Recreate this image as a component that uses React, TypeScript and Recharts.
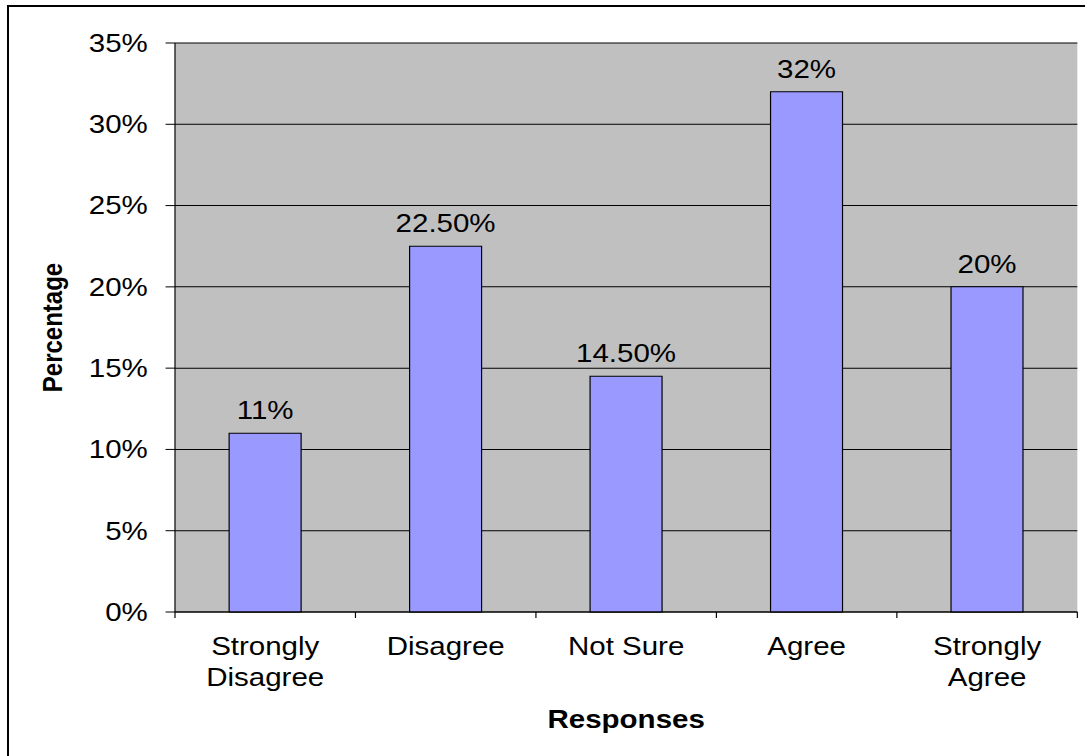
import { BarChart, Bar, XAxis, YAxis, CartesianGrid, LabelList, Label } from "recharts";

const categories = ["Strongly\nDisagree", "Disagree", "Not Sure", "Agree", "Strongly\nAgree"];
const percentages = [0.11, 0.225, 0.145, 0.32, 0.2];
const yTicks = [0, 0.05, 0.1, 0.15, 0.2, 0.25, 0.3, 0.35];

const data = categories.map((name, i) => ({ name, value: percentages[i] }));

// the chart is laid out narrower and stretched sideways, which gives the wide Arial look
const STRETCH = 1.18;
const WIDTH = 921;
const HEIGHT = 756;
const FONT = '"Liberation Sans", Arial, sans-serif';

const tickPct = (v: number) => `${Math.round(v * 100)}%`;

const barPct = (v: any) => {
  const p = Math.round(Number(v) * 1000) / 10;
  return Number.isInteger(p) ? `${p}%` : `${p.toFixed(2)}%`;
};

// category label plus the small marks between categories
function CategoryTick({ x, y, payload, index, visibleTicksCount }: any) {
  const half = payload?.offset ?? 0;
  const lines = String(payload.value).split("\n");
  const last = index === (visibleTicksCount ?? categories.length) - 1;
  return (
    <g>
      <line x1={x - half} x2={x - half} y1={y - 6} y2={y} stroke="#000" />
      {last && <line x1={x + half} x2={x + half} y1={y - 6} y2={y} stroke="#000" />}
      <text x={x} y={y + 37} textAnchor="middle" fontSize={25} fontFamily={FONT} fill="#000">
        {lines.map((l, i) => (
          <tspan key={i} x={x} dy={i === 0 ? 0 : 31}>
            {l}
          </tspan>
        ))}
      </text>
    </g>
  );
}

export default function App() {
  return (
    <div
      style={{
        position: "absolute",
        left: 0,
        top: 0,
        width: 1087,
        height: 756,
        background: "#fff",
        overflow: "hidden",
      }}
    >
      <div
        style={{
          position: "absolute",
          left: 7,
          top: 5,
          width: 1076,
          height: 760,
          borderTop: "2px solid #000",
          borderLeft: "2px solid #000",
        }}
      />
      <div style={{ position: "absolute", left: 0, top: 0, transform: `scaleX(${STRETCH})`, transformOrigin: "0 0" }}>
        <BarChart
          width={WIDTH}
          height={HEIGHT}
          data={data}
          barCategoryGap="30%"
          margin={{ top: 43, right: 8, bottom: 28, left: 8 }}
        >
          <CartesianGrid vertical={false} stroke="#000" fill="#C0C0C0" fillOpacity={1} />
          <XAxis
            dataKey="name"
            interval={0}
            height={116}
            tickSize={6}
            tickMargin={0}
            tickLine={false}
            axisLine={{ stroke: "#000" }}
            tick={<CategoryTick />}
          >
            <Label
              value="Responses"
              position="insideBottom"
              offset={0}
              style={{ fontWeight: "bold", fontSize: 25, fill: "#000", fontFamily: FONT }}
            />
          </XAxis>
          <XAxis
            xAxisId="top"
            orientation="top"
            dataKey="name"
            height={0}
            tick={false}
            tickLine={false}
            axisLine={{ stroke: "#808080", strokeWidth: 2 }}
          />
          <YAxis
            domain={[0, 0.35]}
            ticks={yTicks}
            tickFormatter={tickPct}
            width={140.3}
            tickSize={8}
            tickMargin={15}
            axisLine={{ stroke: "#000" }}
            tickLine={{ stroke: "#000" }}
            tick={{ fontSize: 25, fill: "#000", fontFamily: FONT }}
          >
            <Label
              value="Percentage"
              angle={-90}
              position="insideLeft"
              offset={36}
              style={{ textAnchor: "middle", fontWeight: "bold", fontSize: 24, fill: "#000", fontFamily: FONT }}
            />
          </YAxis>
          <YAxis
            yAxisId="right"
            orientation="right"
            width={0}
            domain={[0, 1]}
            tick={false}
            tickLine={false}
            axisLine={{ stroke: "#808080", strokeWidth: 1.7 }}
          />
          <Bar dataKey="value" fill="#9999FF" stroke="#000" strokeWidth={1} isAnimationActive={false}>
            <LabelList
              dataKey="value"
              position="top"
              offset={14}
              formatter={barPct}
              fill="#000"
              fontSize={25}
              fontFamily={FONT}
            />
          </Bar>
        </BarChart>
      </div>
    </div>
  );
}
